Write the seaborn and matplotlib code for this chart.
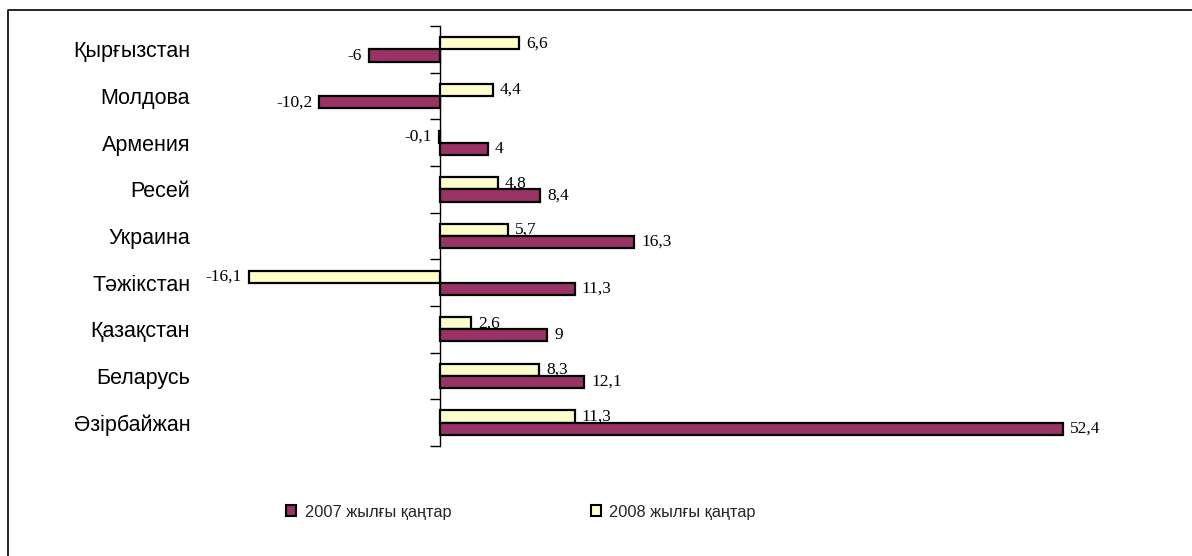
import matplotlib.pyplot as plt
import seaborn as sns
import pandas as pd
from matplotlib.patches import Patch
from matplotlib.lines import Line2D

countries = ['Қырғызстан', 'Молдова', 'Армения', 'Ресей', 'Украина',
             'Тәжікстан', 'Қазақстан', 'Беларусь', 'Әзірбайжан']
jan2007 = [-6, -10.2, 4, 8.4, 16.3, 11.3, 9, 12.1, 52.4]
jan2008 = [6.6, 4.4, -0.1, 4.8, 5.7, -16.1, 2.6, 8.3, 11.3]
series = ['2007 жылғы қаңтар', '2008 жылғы қаңтар']
colors = {'2007 жылғы қаңтар': '#993366', '2008 жылғы қаңтар': '#FFFFCC'}

df = pd.DataFrame({
    'country': countries * 2,
    'value': jan2007 + jan2008,
    'series': [series[0]] * len(countries) + [series[1]] * len(countries),
})

sns.set_theme(style='white')
plt.rcParams['font.family'] = ['Liberation Sans', 'DejaVu Sans']

fig = plt.figure(figsize=(11.92, 5.56), dpi=100)
ax = fig.add_axes([0.170, 0.198, 0.798, 0.755])

sns.barplot(data=df, x='value', y='country', hue='series',
            hue_order=[series[1], series[0]], order=countries,
            palette=colors, saturation=1, width=0.52, edgecolor='black',
            linewidth=1.6, legend=False, ax=ax)

ax.set_xlim(-20, 60)
ax.set_ylim(8.5, -0.5)
for s in ax.spines.values():
    s.set_visible(False)
ax.set_xticks([])
ax.set_xlabel('')
ax.set_ylabel('')
ax.tick_params(axis='y', length=0, pad=9, labelsize=15.5, colors='black')

# zero line with category separators
zero = ax.secondary_yaxis(0.25)
zero.set_yticks([i - 0.5 for i in range(len(countries) + 1)])
zero.set_yticklabels([])
zero.tick_params(axis='y', direction='out', length=7, width=1, color='black')
zero.spines['left'].set_color('black')
zero.spines['left'].set_linewidth(1)

fmt = lambda v: f'{v:g}'.replace('.', ',')
for cont in ax.containers:
    ax.bar_label(cont, fmt=fmt, padding=5, fontsize=12.5,
                 family='Liberation Serif', color='black')

handles = [Patch(facecolor=colors[s], edgecolor='black', linewidth=1.5) for s in series]
fig.legend(handles, series, loc='center', bbox_to_anchor=(0.437, 0.079),
           ncol=2, frameon=False, fontsize=11.8, handlelength=0.65,
           handleheight=0.65, handletextpad=0.5, columnspacing=8.5)

# outer chart frame
fig.add_artist(Line2D([0.0063, 0.0063, 1.0], [0.0, 0.982, 0.982],
                      transform=fig.transFigure, color='black', linewidth=1.2))

fig.savefig('out.png', dpi=100)
